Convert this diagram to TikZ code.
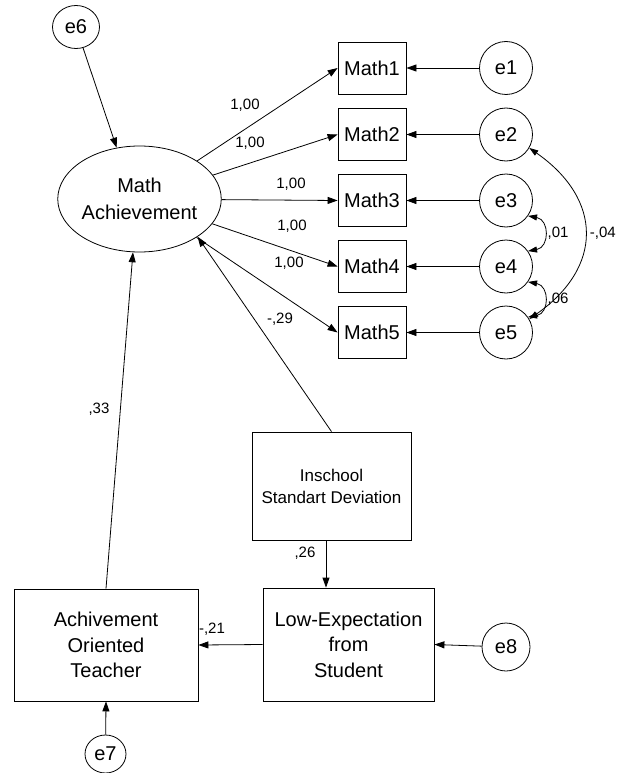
\documentclass[tikz,border=0pt]{standalone}
\usepackage{fontspec}
\setmainfont{Liberation Sans}
\usetikzlibrary{arrows.meta,shapes.geometric}
\begin{document}
\begin{tikzpicture}[x=1pt,y=1pt,
  every node/.style={inner sep=0pt},
  box/.style={draw,rectangle,line width=0.8pt},
  lat/.style={draw,ellipse,line width=0.8pt},
  err/.style={draw,ellipse,line width=0.8pt,font=\fontsize{20}{24}\selectfont},
  obs/.style={box,minimum width=68pt,minimum height=52pt,font=\fontsize{20}{24}\selectfont},
  pathar/.style={line width=0.8pt,-{Triangle[length=10pt,width=7pt]}},
  cov/.style={line width=0.8pt,{Triangle[length=9pt,width=6pt]}-{Triangle[length=9pt,width=6pt]}},
  lab/.style={font=\fontsize{15}{18}\selectfont}
]
\useasboundingbox (0,0) rectangle (617,-773);

\node[lat,minimum width=135pt,minimum height=106pt,align=center,font=\fontsize{20}{27}\selectfont] (ma) at (139.5,-199) {Math\\Achievement};
\node[err,minimum width=47pt,minimum height=43pt] (e6) at (76,-27) {e6};
\foreach \i/\y in {1/68,2/134.5,3/200.5,4/266.5,5/332.5}{
  \node[obs] (m\i) at (372,-\y) {Math\i};
  \node[err,minimum width=53pt,minimum height=53pt] (e\i) at (506,-\y) {e\i};
}
\node[box,minimum width=159pt,minimum height=108pt,align=center,font=\fontsize{17}{22}\selectfont] (isd) at (331.5,-486) {Inschool\\Standart Deviation};
\node[box,minimum width=184pt,minimum height=112pt,align=center,font=\fontsize{20}{25.5}\selectfont] (aot) at (106,-645) {Achivement\\Oriented\\Teacher};
\node[box,minimum width=171pt,minimum height=113pt,align=center,font=\fontsize{20}{25.5}\selectfont] (le) at (348.5,-644.5) {Low-Expectation\\from\\Student};
\node[err,minimum width=48pt,minimum height=48pt] (e8) at (506,-647) {e8};
\node[err,minimum width=41pt,minimum height=38pt] (e7) at (105.5,-754) {e7};

\draw[pathar] (e6) -- (ma.114);
\foreach \i in {1,...,5}{
  \draw[pathar] (ma) -- (m\i.west);
  \draw[pathar] (e\i) -- (m\i.east);
}
\draw[pathar] (isd.north) -- (ma.-33);
\draw[pathar] (aot.north) -- (ma.-97);
\draw[pathar] (le.west) -- (aot.east);
\draw[pathar] (e8) -- (le.east);
\draw[pathar] (e7) -- (aot.south);
\draw[pathar] ([xshift=-5.5pt]isd.south) -- ([xshift=-5.5pt]isd.south |- le.north);

\draw[cov] (e3.-35) to[out=-10,in=10,looseness=1.6] (e4.35);
\draw[cov] (e4.-35) to[out=-10,in=10,looseness=1.6] (e5.35);
\draw[cov] (e2.-30) to[out=-35,in=35,looseness=1.35] (e5.30);

\node[lab] (l1) at (245,-105) {1,00};
\node[lab] (l2) at (250,-143) {1,00};
\node[lab] (l3) at (291,-184) {1,00};
\node[lab] (l4) at (292,-226) {1,00};
\node[lab] (l5) at (289,-263) {1,00};
\node[lab] (l29) at (280,-319) {-,29};
\node[lab] (l01) at (558,-233) {,01};
\node[lab] (l06) at (558,-299) {,06};
\node[lab,anchor=east] (l04) at (616,-233) {-,04};
\node[lab] (l33) at (99,-409) {,33};
\node[lab] (l26) at (305,-553) {,26};
\node[lab] (l21) at (212,-629) {-,21};
\end{tikzpicture}
\end{document}
